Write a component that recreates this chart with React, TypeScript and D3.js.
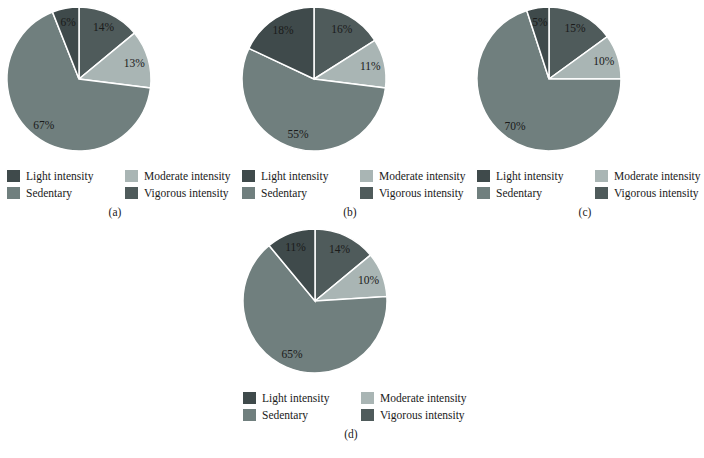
import React, { useEffect, useRef } from 'react';
import * as d3 from 'd3';

// slice order, clockwise from 12 o'clock
const categories = ['Vigorous intensity', 'Moderate intensity', 'Sedentary', 'Light intensity'];
const panelA = [14, 13, 67, 6];
const panelB = [16, 11, 55, 18];
const panelC = [15, 10, 70, 5];
const panelD = [14, 10, 65, 11];
const captions = ['(a)', '(b)', '(c)', '(d)'];

// legend order as drawn (two columns)
const legendItems = ['Light intensity', 'Moderate intensity', 'Sedentary', 'Vigorous intensity'];

const colors: Record<string, string> = {
  'Light intensity': '#3f4a4b',
  'Moderate intensity': '#a9b5b4',
  'Sedentary': '#707f7e',
  'Vigorous intensity': '#4f5b5b',
};

const FONT = '"Liberation Serif", "DejaVu Serif", serif';

const App = () => {
  const svgRef = useRef<SVGSVGElement>(null);

  useEffect(() => {
    const svg = d3.select(svgRef.current);
    svg.selectAll('*').remove();

    const radius = 72;
    // left/top of each panel (pie left edge, pie top edge)
    const panels = [
      { x: 7, y: 7, values: panelA },
      { x: 242, y: 7, values: panelB },
      { x: 477, y: 7, values: panelC },
      { x: 243, y: 229, values: panelD },
    ];

    const pie = d3.pie<number>().sort(null).value(d => d);
    const arc = d3.arc<d3.PieArcDatum<number>>().innerRadius(0).outerRadius(radius);
    const labelArc = d3.arc<d3.PieArcDatum<number>>().innerRadius(radius * 0.8).outerRadius(radius * 0.8);

    panels.forEach((p, i) => {
      const g = svg.append('g').attr('transform', `translate(${p.x},${p.y})`);
      const pieG = g.append('g').attr('transform', `translate(${radius},${radius})`);
      const arcs = pie(p.values);

      pieG.selectAll('.slice')
        .data(arcs)
        .enter()
        .append('path')
        .attr('class', 'slice')
        .attr('d', arc)
        .attr('fill', (d, j) => colors[categories[j]])
        .attr('stroke', '#ffffff')
        .attr('stroke-width', 1.5);

      pieG.selectAll('.label')
        .data(arcs)
        .enter()
        .append('text')
        .attr('class', 'label')
        .attr('transform', d => `translate(${labelArc.centroid(d)})`)
        .attr('dy', '0.35em')
        .attr('text-anchor', 'middle')
        .style('font-family', FONT)
        .style('font-size', '11.5px')
        .attr('fill', '#1a1a1a')
        .text(d => `${d.data}%`);

      // legend
      const leg = g.append('g').attr('transform', `translate(0,${163})`);
      legendItems.forEach((name, k) => {
        const col = k % 2;
        const row = Math.floor(k / 2);
        const item = leg.append('g').attr('transform', `translate(${col * 118},${row * 17})`);
        item.append('rect')
          .attr('width', 13)
          .attr('height', 12)
          .attr('fill', colors[name]);
        item.append('text')
          .attr('x', 19)
          .attr('y', 10)
          .style('font-family', FONT)
          .style('font-size', '11.5px')
          .attr('fill', '#1a1a1a')
          .text(name);
      });

      g.append('text')
        .attr('x', 108)
        .attr('y', 209)
        .attr('text-anchor', 'middle')
        .style('font-family', FONT)
        .style('font-size', '11.5px')
        .attr('fill', '#1a1a1a')
        .text(captions[i]);
    });
  }, []);

  return (
    <svg
      ref={svgRef}
      width={704}
      height={458}
      style={{ position: 'absolute', left: 0, top: 0, background: '#ffffff' }}
    />
  );
};

export default App;
